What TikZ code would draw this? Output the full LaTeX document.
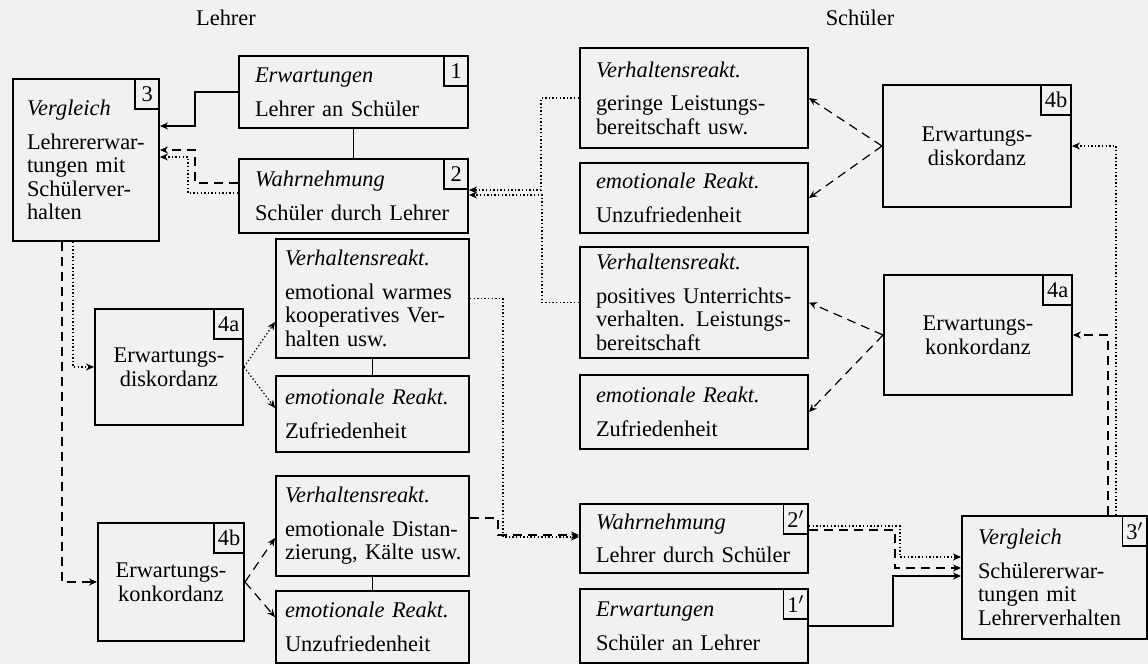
\documentclass[tikz,border=0pt]{standalone}
\usepackage{fontspec}
\setmainfont{Liberation Serif}
\usetikzlibrary{arrows.meta}
\definecolor{papier}{RGB}{241,241,241}
\tikzset{
  kasten/.style={draw, line width=1pt, anchor=north west, align=left, inner xsep=8pt, inner ysep=2pt},
  schmal/.style={kasten, inner xsep=4.5pt, text width=87.5pt},
  mitte/.style={draw, line width=1pt, anchor=north west, align=center},
  nummer/.style={draw, line width=0.8pt, anchor=north east, minimum width=12pt, minimum height=15pt, inner sep=2pt},
  pfeil/.style={-{Stealth[length=4pt,width=3.5pt]}, line width=0.6pt},
  strich/.style={dash pattern=on 4.5pt off 3pt},
  punkt/.style={dash pattern=on 0.7pt off 1.1pt},
}
\begin{document}
\begin{tikzpicture}[x=0.5pt, y=-0.5pt, font=\fontsize{11.2}{11.8}\selectfont]
\useasboundingbox[fill=papier] (0,0) rectangle (1148,664);

% Koepfe
\node (lehrer) at (226,18) {Lehrer};
\node (schueler) at (860,18) {Schüler};

% Lehrer
\node[kasten, inner xsep=7pt, text width=59pt, minimum height=81pt] (V3) at (12,78) {\textit{Vergleich}\\[5pt] Lehrererwar-\\tungen mit\\Schülerver-\\halten\\[4pt]};
\node[nummer] (n3) at (V3.north east) {3};
\node[kasten, text width=98.5pt, minimum height=36pt] (E1) at (238,55) {\textit{Erwartungen}\\[5pt] Lehrer an Schüler};
\node[nummer] (n1) at (E1.north east) {1};
\node[kasten, text width=98.5pt, minimum height=37pt] (W2) at (238,158) {\textit{Wahrnehmung}\\[5pt] Schüler durch Lehrer};
\node[nummer] (n2) at (W2.north east) {2};
\node[schmal, minimum height=59.5pt] (VL1) at (275,238) {\textit{Verhaltensreakt.}\\[5pt] emotional warmes\\kooperatives Ver-\\halten usw.};
\node[schmal, minimum height=38pt] (EL1) at (275,375) {\textit{emotionale Reakt.}\\[5pt] Zufriedenheit};
\node[schmal, minimum height=50pt] (VL2) at (275,475) {\textit{Verhaltensreakt.}\\[5pt] emotionale Distan-\\\mbox{zierung, Kälte usw.}};
\node[schmal, minimum height=36pt] (EL2) at (275,590) {\textit{emotionale Reakt.}\\[5pt] Unzufriedenheit};
\node[mitte, minimum width=74pt, minimum height=58pt] (D4aL) at (94,308) {Erwartungs-\\diskordanz};
\node[nummer] (n4aL) at (D4aL.north east) {4a};
\node[mitte, minimum width=73pt, minimum height=59pt] (K4bL) at (97,522) {Erwartungs-\\konkordanz};
\node[nummer] (n4bL) at (K4bL.north east) {4b};

% Schueler
\node[kasten, text width=98pt, minimum height=50pt] (VS1) at (579,47) {\textit{Verhaltensreakt.}\\[5pt] geringe Leistungs-\\bereitschaft usw.};
\node[kasten, text width=98pt, minimum height=35pt] (ES1) at (579,162) {\textit{emotionale Reakt.}\\[5pt] Unzufriedenheit};
\node[kasten, text width=98pt, minimum height=55.5pt] (VS2) at (579,246) {\textit{Verhaltensreakt.}\\[5pt] positives Unterrichts-\\verhalten. Leistungs-\\bereitschaft};
\node[kasten, text width=98pt, minimum height=37pt] (ES2) at (579,374) {\textit{emotionale Reakt.}\\[5pt] Zufriedenheit};
\node[kasten, text width=98pt, minimum height=34.5pt] (W2s) at (579,503) {\textit{Wahrnehmung}\\[5pt] Lehrer durch Schüler};
\node[nummer] (n2s) at (W2s.north east) {2$'$};
\node[kasten, text width=98pt, minimum height=37pt] (E1s) at (579,588) {\textit{Erwartungen}\\[5pt] Schüler an Lehrer};
\node[nummer] (n1s) at (E1s.north east) {1$'$};
\node[mitte, minimum width=94pt, minimum height=61pt] (D4bR) at (882,84) {Erwartungs-\\diskordanz};
\node[nummer] (n4bR) at (D4bR.north east) {4b};
\node[mitte, minimum width=94pt, minimum height=60pt] (K4aR) at (883,274) {Erwartungs-\\konkordanz};
\node[nummer] (n4aR) at (K4aR.north east) {4a};
\node[kasten, text width=76.5pt, minimum height=61.5pt] (V3s) at (961,515) {\textit{Vergleich}\\[5pt] Schülererwar-\\tungen mit\\Lehrerverhalten};
\node[nummer] (n3s) at (V3s.north east) {3$'$};

% feste Verbindungen
\draw[line width=0.6pt] (E1.south) -- (W2.north);
\draw[line width=0.6pt] (VL1.south) -- (EL1.north);
\draw[line width=0.6pt] (VL2.south) -- (EL2.north);

% Lehrer: Vergleich
\draw[pfeil] (E1.west) -| (195,126) -- (V3.east |- 0,126);
\draw[pfeil, strich] (W2.west |- 0,183) -| (195,150) -- (V3.east |- 0,150);
\draw[pfeil, punkt] (W2.west |- 0,193) -| (188,157) -- (V3.east |- 0,157);
\draw[pfeil, punkt] (73,0 |- V3.south) |- (D4aL.west);
\draw[pfeil, strich] (62,0 |- V3.south) |- (K4bL.west);
\draw[pfeil, punkt] (D4aL.east) -- (VL1.west |- 0,322);
\draw[pfeil, punkt] (D4aL.east) -- (EL1.west |- 0,408);
\draw[pfeil, strich] (K4bL.east) -- (VL2.west |- 0,538);
\draw[pfeil, strich] (K4bL.east) -- (EL2.west |- 0,617);

% Lehrer -> Schueler
\draw[pfeil, punkt] (VL1.east) -| (503,537) -- (W2s.west |- 0,537);
\draw[pfeil, strich] (VL2.east |- 0,518) -| (498,535) -- (W2s.west |- 0,535);

% Schueler: Vergleich
\draw[pfeil, punkt] (W2s.east |- 0,526) -| (900,557) -- (V3s.west |- 0,557);
\draw[pfeil, strich] (W2s.east |- 0,530) -| (895,568) -- (V3s.west |- 0,568);
\draw[pfeil] (E1s.east) -| (893,576) -- (V3s.west |- 0,576);
\draw[pfeil, strich] (1108,0 |- V3s.north) |- (K4aR.east);
\draw[pfeil, punkt] (1116,0 |- V3s.north) |- (D4bR.east);
\draw[pfeil, strich] (D4bR.west) -- (VS1.east);
\draw[pfeil, strich] (D4bR.west) -- (ES1.east);
\draw[pfeil, strich] (K4aR.west) -- (VS2.east);
\draw[pfeil, strich] (K4aR.west) -- (ES2.east);

% Schueler -> Lehrer
\draw[pfeil, punkt] (VS1.west) -| (541,190) -- (W2.east |- 0,190);
\draw[pfeil, punkt] (VS2.west) -| (542,195) -- (W2.east |- 0,195);
\end{tikzpicture}
\end{document}
